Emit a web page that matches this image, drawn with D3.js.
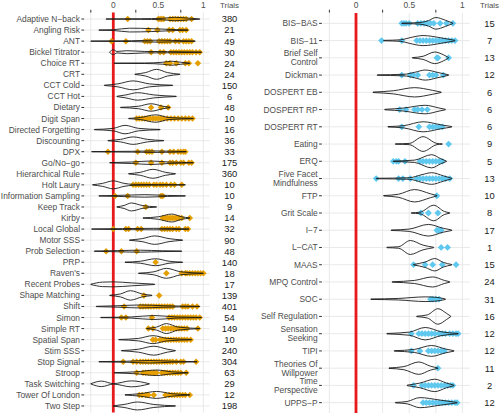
<!DOCTYPE html>
<html><head><meta charset="utf-8">
<script src="https://cdn.jsdelivr.net/npm/d3@7"></script>
<style>body{margin:0;background:#fff} svg{display:block} text{font-family:"Liberation Sans",Arial,Helvetica,sans-serif}</style>
</head><body><svg id="c" width="500" height="413"></svg>
<script>
// ---------- data: behavioural tasks (left panel) ----------
const leftTasks = ["Adaptive N−back","Angling Risk","ANT","Bickel Titrator","Choice RT","CRT","CCT Cold","CCT Hot","Dietary","Digit Span","Directed Forgetting","Discounting","DPX","Go/No−go","Hierarchical Rule","Holt Laury","Information Sampling","Keep Track","Kirby","Local Global","Motor SSS","Prob Selection","PRP","Raven's","Recent Probes","Shape Matching","Shift","Simon","Simple RT","Spatial Span","Stim SSS","Stop Signal","Stroop","Task Switching","Tower Of London","Two Step"];
const leftTrials = [380,21,49,30,24,24,150,6,48,10,16,36,33,175,360,10,10,9,14,32,90,48,140,18,17,139,401,54,149,10,240,304,63,29,12,198];
// violin outlines: [value, relative half-width]
const leftViolins = [
 [[-0.08,0.03],[0.3,0.06],[0.55,0.15],[0.68,0.35],[0.82,0.2],[0.96,0.03]],
 [[-0.16,0.03],[0.0,0.08],[0.18,0.38],[0.42,0.3],[0.65,0.12],[0.83,0.03]],
 [[-0.25,0.03],[0.2,0.08],[0.5,0.2],[0.65,0.15],[0.91,0.03]],
 [[-0.04,0.05],[0.0,0.5],[0.04,0.15],[0.15,0.3],[0.35,0.15],[0.6,0.12],[0.98,0.03]],
 [[0.01,0.03],[0.35,0.05],[0.55,0.2],[0.65,0.4],[0.75,0.2],[0.85,0.03]],
 [[0.24,0.03],[0.36,0.35],[0.48,1.0],[0.6,0.35],[0.74,0.03]],
 [[-0.10,0.03],[0.05,0.3],[0.22,0.9],[0.4,0.3],[0.66,0.03]],
 [[0.04,0.03],[0.14,0.3],[0.27,0.75],[0.45,0.3],[0.70,0.03]],
 [[0.08,0.03],[0.28,0.25],[0.42,0.75],[0.55,0.25],[0.63,0.03]],
 [[0.17,0.03],[0.3,0.2],[0.47,0.75],[0.62,0.2],[0.89,0.03]],
 [[-0.21,0.03],[0.0,0.25],[0.13,0.85],[0.28,0.25],[0.52,0.03]],
 [[-0.06,0.03],[0.08,0.25],[0.22,0.75],[0.38,0.25],[0.56,0.03]],
 [[-0.24,0.03],[0.2,0.08],[0.45,0.15],[0.65,0.1],[0.81,0.03]],
 [[-0.04,0.03],[0.2,0.15],[0.42,0.35],[0.62,0.15],[0.89,0.03]],
 [[0.17,0.03],[0.3,0.3],[0.44,0.9],[0.58,0.3],[0.69,0.03]],
 [[-0.23,0.03],[-0.12,0.3],[0.0,0.8],[0.12,0.3],[0.22,0.1],[0.5,0.05],[0.80,0.03]],
 [[-0.16,0.03],[0.05,0.1],[0.35,0.25],[0.6,0.1],[0.8,0.03]],
 [[0.04,0.03],[0.12,0.3],[0.2,0.8],[0.32,0.3],[0.48,0.03]],
 [[0.33,0.03],[0.5,0.25],[0.65,0.8],[0.76,0.25],[0.85,0.03]],
 [[-0.24,0.03],[0.1,0.1],[0.45,0.15],[0.65,0.12],[0.84,0.03]],
 [[0.18,0.03],[0.32,0.3],[0.46,0.85],[0.62,0.3],[0.77,0.03]],
 [[-0.21,0.03],[0.05,0.12],[0.3,0.2],[0.55,0.08],[0.76,0.03]],
 [[0.13,0.03],[0.3,0.2],[0.47,0.7],[0.62,0.2],[0.77,0.03]],
 [[0.28,0.03],[0.45,0.3],[0.59,1.0],[0.75,0.3],[1.0,0.03]],
 [[-0.25,0.03],[-0.12,0.45],[0.0,0.5],[0.2,0.3],[0.46,0.03]],
 [[-0.04,0.03],[0.08,0.3],[0.19,0.95],[0.32,0.3],[0.43,0.03]],
 [[-0.19,0.03],[0.05,0.15],[0.3,0.3],[0.55,0.15],[0.96,0.03]],
 [[-0.14,0.03],[0.2,0.12],[0.45,0.4],[0.7,0.12],[0.98,0.03]],
 [[0.37,0.03],[0.48,0.3],[0.59,1.0],[0.72,0.3],[0.96,0.03]],
 [[0.06,0.03],[0.28,0.25],[0.44,0.8],[0.6,0.25],[0.87,0.03]],
 [[0.09,0.03],[0.28,0.3],[0.45,0.9],[0.6,0.3],[0.69,0.03]],
 [[-0.16,0.03],[0.15,0.1],[0.4,0.25],[0.65,0.1],[0.93,0.03]],
 [[0.01,0.03],[0.25,0.2],[0.48,0.55],[0.65,0.2],[0.83,0.03]],
 [[-0.25,0.03],[-0.13,0.55],[0.0,0.05],[0.2,0.6],[0.40,0.03]],
 [[0.13,0.03],[0.3,0.25],[0.48,0.7],[0.65,0.25],[0.85,0.03]],
 [[0.0,0.03],[0.12,0.3],[0.27,0.8],[0.45,0.3],[0.69,0.03]]
];
const leftPoints = [
 [0.16,0.50,0.52,0.54,0.56,0.63,0.66,0.69,0.72,0.75,0.78,0.81,0.87],
 [0.39,0.49,0.62,0.66,0.74,0.77,0.81],
 [-0.02,0.14,0.35,0.38,0.41,0.51,0.54,0.57,0.6,0.63,0.69,0.73,0.78,0.81,0.84,0.87],
 [0.42,0.52,0.56,0.64,0.67,0.7,0.73,0.76,0.79,0.82,0.85,0.88,0.92,0.96],
 [0.59,0.63,0.70,0.80,0.84,0.94],
 [],[],[],
 [0.42,0.53,0.61],
 [0.26,0.29,0.32,0.35,0.38,0.41,0.44,0.47,0.50,0.53,0.56,0.60,0.64,0.68,0.72,0.76,0.80,0.84,0.88],
 [],[],
 [-0.06,0.27,0.37,0.40,0.43,0.54,0.63,0.67,0.72,0.75,0.78,0.80],
 [0.25,0.42,0.54,0.63,0.66,0.70,0.75,0.78,0.84,0.87],
 [],
 [0.22,0.25,0.28,0.31,0.34,0.37,0.40,0.45,0.48,0.52,0.55,0.59,0.64,0.68,0.76],
 [0.02,0.16,0.53,0.55],
 [0.36],
 [0.55,0.58,0.60,0.62,0.64,0.66,0.68,0.70,0.73,0.76,0.85],
 [0.0,0.14,0.17,0.27,0.31,0.54,0.57,0.60,0.63,0.66,0.70,0.73,0.80,0.83],
 [],
 [-0.08,0.09,0.26],
 [0.47],
 [0.59,0.76,0.80,0.82,0.85,0.88,0.91,0.94,0.97,1.0],
 [],
 [0.34,0.51],
 [0.12,0.30,0.33,0.36,0.39,0.42,0.45,0.48,0.51,0.54,0.57,0.60,0.63,0.66,0.77,0.80,0.83,0.88,0.93],
 [0.09,0.14,0.43,0.62,0.65,0.68,0.71,0.74,0.77,0.80,0.83,0.86,0.89,0.92,0.96],
 [0.39,0.44,0.55,0.58,0.61,0.64,0.67,0.70,0.73,0.76,0.79,0.82,0.94],
 [0.44,0.47,0.52,0.55,0.58,0.61,0.64,0.67,0.70,0.73,0.76,0.79,0.82,0.86],
 [],
 [0.11,0.22,0.26,0.30,0.33,0.36,0.39,0.42,0.45,0.48,0.51,0.54,0.57,0.60,0.63,0.66,0.70,0.75,0.78,0.92],
 [0.26,0.33,0.36,0.39,0.42,0.45,0.48,0.54,0.57,0.60,0.63,0.66,0.69,0.72,0.75,0.81],
 [],
 [0.29,0.32,0.36,0.39,0.45,0.58,0.62,0.65,0.68,0.71,0.74,0.77,0.80,0.85],
 []
];
// ---------- data: self-report surveys (right panel) ----------
const rightSurveys = ["BIS−BAS","BIS−11","Brief Self\nControl","Dickman","DOSPERT EB","DOSPERT RP","DOSPERT RT","Eating","ERQ","Five Facet\nMindfulness","FTP","Grit Scale","I−7","L−CAT","MAAS","MPQ Control","SOC","Self Regulation","Sensation\nSeeking","TIPI","Theories Of\nWillpower","Time\nPerspective","UPPS−P"];
const rightTrials = [15,7,13,12,6,6,6,9,5,13,10,8,17,1,15,24,31,16,12,12,11,2,12];
const rightViolins = [
 [[0.43,0.03],[0.6,0.1],[0.68,0.35],[0.75,0.75],[0.84,0.4],[0.91,0.03]],
 [[0.26,0.03],[0.42,0.1],[0.5,0.35],[0.63,0.65],[0.8,0.35],[0.93,0.03]],
 [[0.53,0.03],[0.63,0.2],[0.74,0.75],[0.82,0.4],[0.87,0.03]],
 [[0.20,0.03],[0.45,0.1],[0.55,0.35],[0.65,0.65],[0.78,0.3],[0.87,0.03]],
 [[0.16,0.03],[0.35,0.2],[0.55,0.6],[0.72,0.25],[0.80,0.03]],
 [[0.27,0.03],[0.45,0.2],[0.65,0.55],[0.78,0.2],[0.84,0.03]],
 [[0.30,0.03],[0.45,0.15],[0.63,0.65],[0.8,0.25],[0.90,0.03]],
 [[0.37,0.03],[0.5,0.08],[0.63,0.95],[0.76,0.08],[0.81,0.03]],
 [[0.35,0.03],[0.55,0.15],[0.71,0.85],[0.8,0.3],[0.85,0.03]],
 [[0.19,0.03],[0.5,0.1],[0.62,0.5],[0.71,0.75],[0.82,0.35],[0.90,0.03]],
 [[0.26,0.03],[0.4,0.2],[0.55,0.8],[0.7,0.25],[0.76,0.03]],
 [[0.52,0.03],[0.6,0.1],[0.73,1.0],[0.83,0.2],[0.88,0.03]],
 [[0.33,0.03],[0.5,0.15],[0.68,0.75],[0.82,0.25],[0.90,0.03]],
 [[0.29,0.03],[0.4,0.1],[0.51,0.9],[0.63,0.3],[0.73,0.03]],
 [[0.54,0.03],[0.65,0.35],[0.74,0.8],[0.82,0.3],[0.90,0.03]],
 [[0.34,0.03],[0.55,0.2],[0.72,0.65],[0.83,0.2],[0.88,0.03]],
 [[0.14,0.03],[0.4,0.1],[0.65,0.3],[0.75,0.25],[0.84,0.03]],
 [[0.57,0.03],[0.67,0.2],[0.77,1.0],[0.85,0.4],[0.89,0.03]],
 [[0.29,0.03],[0.5,0.2],[0.65,0.8],[0.8,0.25],[0.96,0.03]],
 [[0.36,0.03],[0.55,0.2],[0.71,0.7],[0.84,0.25],[0.92,0.03]],
 [[0.31,0.03],[0.45,0.2],[0.59,0.8],[0.7,0.25],[0.77,0.03]],
 [[0.48,0.03],[0.6,0.3],[0.74,0.8],[0.85,0.3],[0.92,0.03]],
 [[0.37,0.03],[0.48,0.15],[0.6,0.65],[0.78,0.35],[0.95,0.03]]
];
const rightPoints = [
 [0.43,0.45,0.47,0.50,0.58,0.61,0.64,0.67,0.70,0.73,0.79,0.85,0.91],
 [0.24,0.43,0.57,0.60,0.63,0.66,0.69,0.72,0.75,0.78,0.81,0.84,0.87,0.90,0.93],
 [0.76,0.77,0.87],
 [0.43,0.51,0.54,0.58,0.69,0.72,0.75,0.82],
 [],
 [0.41,0.47,0.55,0.58,0.62,0.67],
 [0.43,0.59,0.69,0.72,0.75,0.78,0.81],
 [0.87],
 [0.35,0.38,0.40,0.46,0.60,0.63,0.66,0.69,0.72,0.75,0.78,0.81],
 [0.19,0.40,0.44,0.51,0.57,0.60,0.63,0.66,0.69,0.72,0.75,0.78,0.81,0.84,0.88],
 [0.76],
 [0.61,0.68,0.77],
 [0.76,0.78,0.80],
 [0.80,0.86],
 [0.54,0.65,0.72,0.81,0.94],
 [],
 [0.70,0.72,0.75,0.78],
 [],
 [0.52,0.59,0.62,0.65,0.68,0.71,0.74,0.78,0.81,0.84,0.88,0.91,0.94,0.96],
 [0.52,0.60,0.68,0.71,0.74,0.77,0.80,0.83],
 [0.77],
 [0.54,0.62,0.65,0.68,0.71,0.74,0.77,0.80,0.83,0.86,0.89,0.91],
 [0.63,0.66,0.69,0.72,0.75,0.78,0.81,0.84,0.87,0.90,0.93,0.95]
];
// ---------- axis ----------
const xLabelValues = [0, 0.5, 1];
const xLabelTexts = ["0", "0.5", "1"];
const xTickValues = [-0.25, 0.25, 0.75];
const xGridValues = [-0.25, 0, 0.25, 0.5, 0.75, 1];
const xDomain = [-0.31, 1.07];
const trialsHeader = "Trials";

const svg = d3.select("#c");
const LABEL_FS = 8.4;

function drawPanel(o) {
  const x = d3.scaleLinear().domain(xDomain).range(o.xr);
  const y = d3.scalePoint().domain(d3.range(o.names.length)).range([o.top, o.bottom]).padding(0.6);
  const step = y.step();
  const hmax = 0.45 * step;
  const g = svg.append("g");
  // grid
  g.selectAll(".hg").data(d3.range(o.names.length)).join("line")
    .attr("x1", o.xr[0]).attr("x2", o.xr[1]).attr("y1", d => y(d)).attr("y2", d => y(d))
    .attr("stroke", "#e6e6e6").attr("stroke-width", 0.9);
  g.selectAll(".vg").data(xGridValues).join("line")
    .attr("x1", d => x(d)).attr("x2", d => x(d)).attr("y1", o.top).attr("y2", o.bottom)
    .attr("stroke", "#e6e6e6").attr("stroke-width", 0.9);
  // top axis labels and ticks
  g.selectAll(".xl").data(xLabelValues).join("text")
    .attr("x", d => x(d)).attr("y", 8).attr("text-anchor", "middle")
    .attr("font-size", LABEL_FS).attr("fill", "#4d4d4d").text((d, i) => xLabelTexts[i]);
  g.selectAll(".xt").data(xTickValues).join("line")
    .attr("x1", d => x(d)).attr("x2", d => x(d)).attr("y1", 9.8).attr("y2", 12.6)
    .attr("stroke", "#333").attr("stroke-width", 1);
  // reference line at zero
  g.append("line").attr("x1", x(0)).attr("x2", x(0)).attr("y1", o.top).attr("y2", o.bottom)
    .attr("stroke", "#e8191c").attr("stroke-width", 2.8);
  // y labels + ticks
  o.names.forEach((name, i) => {
    const lines = name.split("\n");
    const t = g.append("text").attr("text-anchor", "end").attr("font-size", LABEL_FS).attr("fill", "#4d4d4d");
    lines.forEach((ln, k) => {
      const cy = y(i) + (k - (lines.length - 1) / 2) * 9;
      t.append("tspan").attr("x", o.labelX).attr("y", cy + 3).text(ln);
    });
    g.append("line").attr("x1", o.labelX + 1.4).attr("x2", o.labelX + 4.2)
      .attr("y1", y(i)).attr("y2", y(i)).attr("stroke", "#333").attr("stroke-width", 1);
  });
  // points
  const diamond = d3.symbol().type(d3.symbolSquare).size(o.psize)();
  o.points.forEach((arr, i) => {
    g.selectAll(null).data(arr).join("path")
      .attr("d", diamond)
      .attr("transform", d => `translate(${x(d)},${y(i)}) rotate(45)`)
      .attr("fill", o.color);
  });
  // violins
  o.violins.forEach((knots, i) => {
    const area = d3.area().x(d => x(d[0]))
      .y0(d => y(i) + d[1] * hmax).y1(d => y(i) - d[1] * hmax)
      .curve(d3.curveMonotoneX);
    g.append("path").attr("d", area(knots)).attr("fill", "none")
      .attr("stroke", "#1a1a1a").attr("stroke-width", 0.9);
  });
  // trials column
  g.append("text").attr("x", o.trialsX).attr("y", 8).attr("text-anchor", "middle")
    .attr("font-size", 7.9).attr("fill", "#4d4d4d").text(trialsHeader);
  g.selectAll(".tr").data(o.trials).join("text")
    .attr("x", o.trialsX).attr("y", (d, i) => y(i) + 3.4).attr("text-anchor", "middle")
    .attr("font-size", 9.4).attr("fill", "#1a1a1a").text(d => d);
}

drawPanel({names: leftTasks, trials: leftTrials, violins: leftViolins, points: leftPoints,
  xr: [85.4, 209.6], top: 12.4, bottom: 412.6, labelX: 80, trialsX: 229.5, color: "#e69f00", psize: 21});
drawPanel({names: rightSurveys, trials: rightTrials, violins: rightViolins, points: rightPoints,
  xr: [323, 469.9], top: 13, bottom: 413, labelX: 317.7, trialsX: 489.5, color: "#5fc8ef", psize: 23});
</script></body></html>
